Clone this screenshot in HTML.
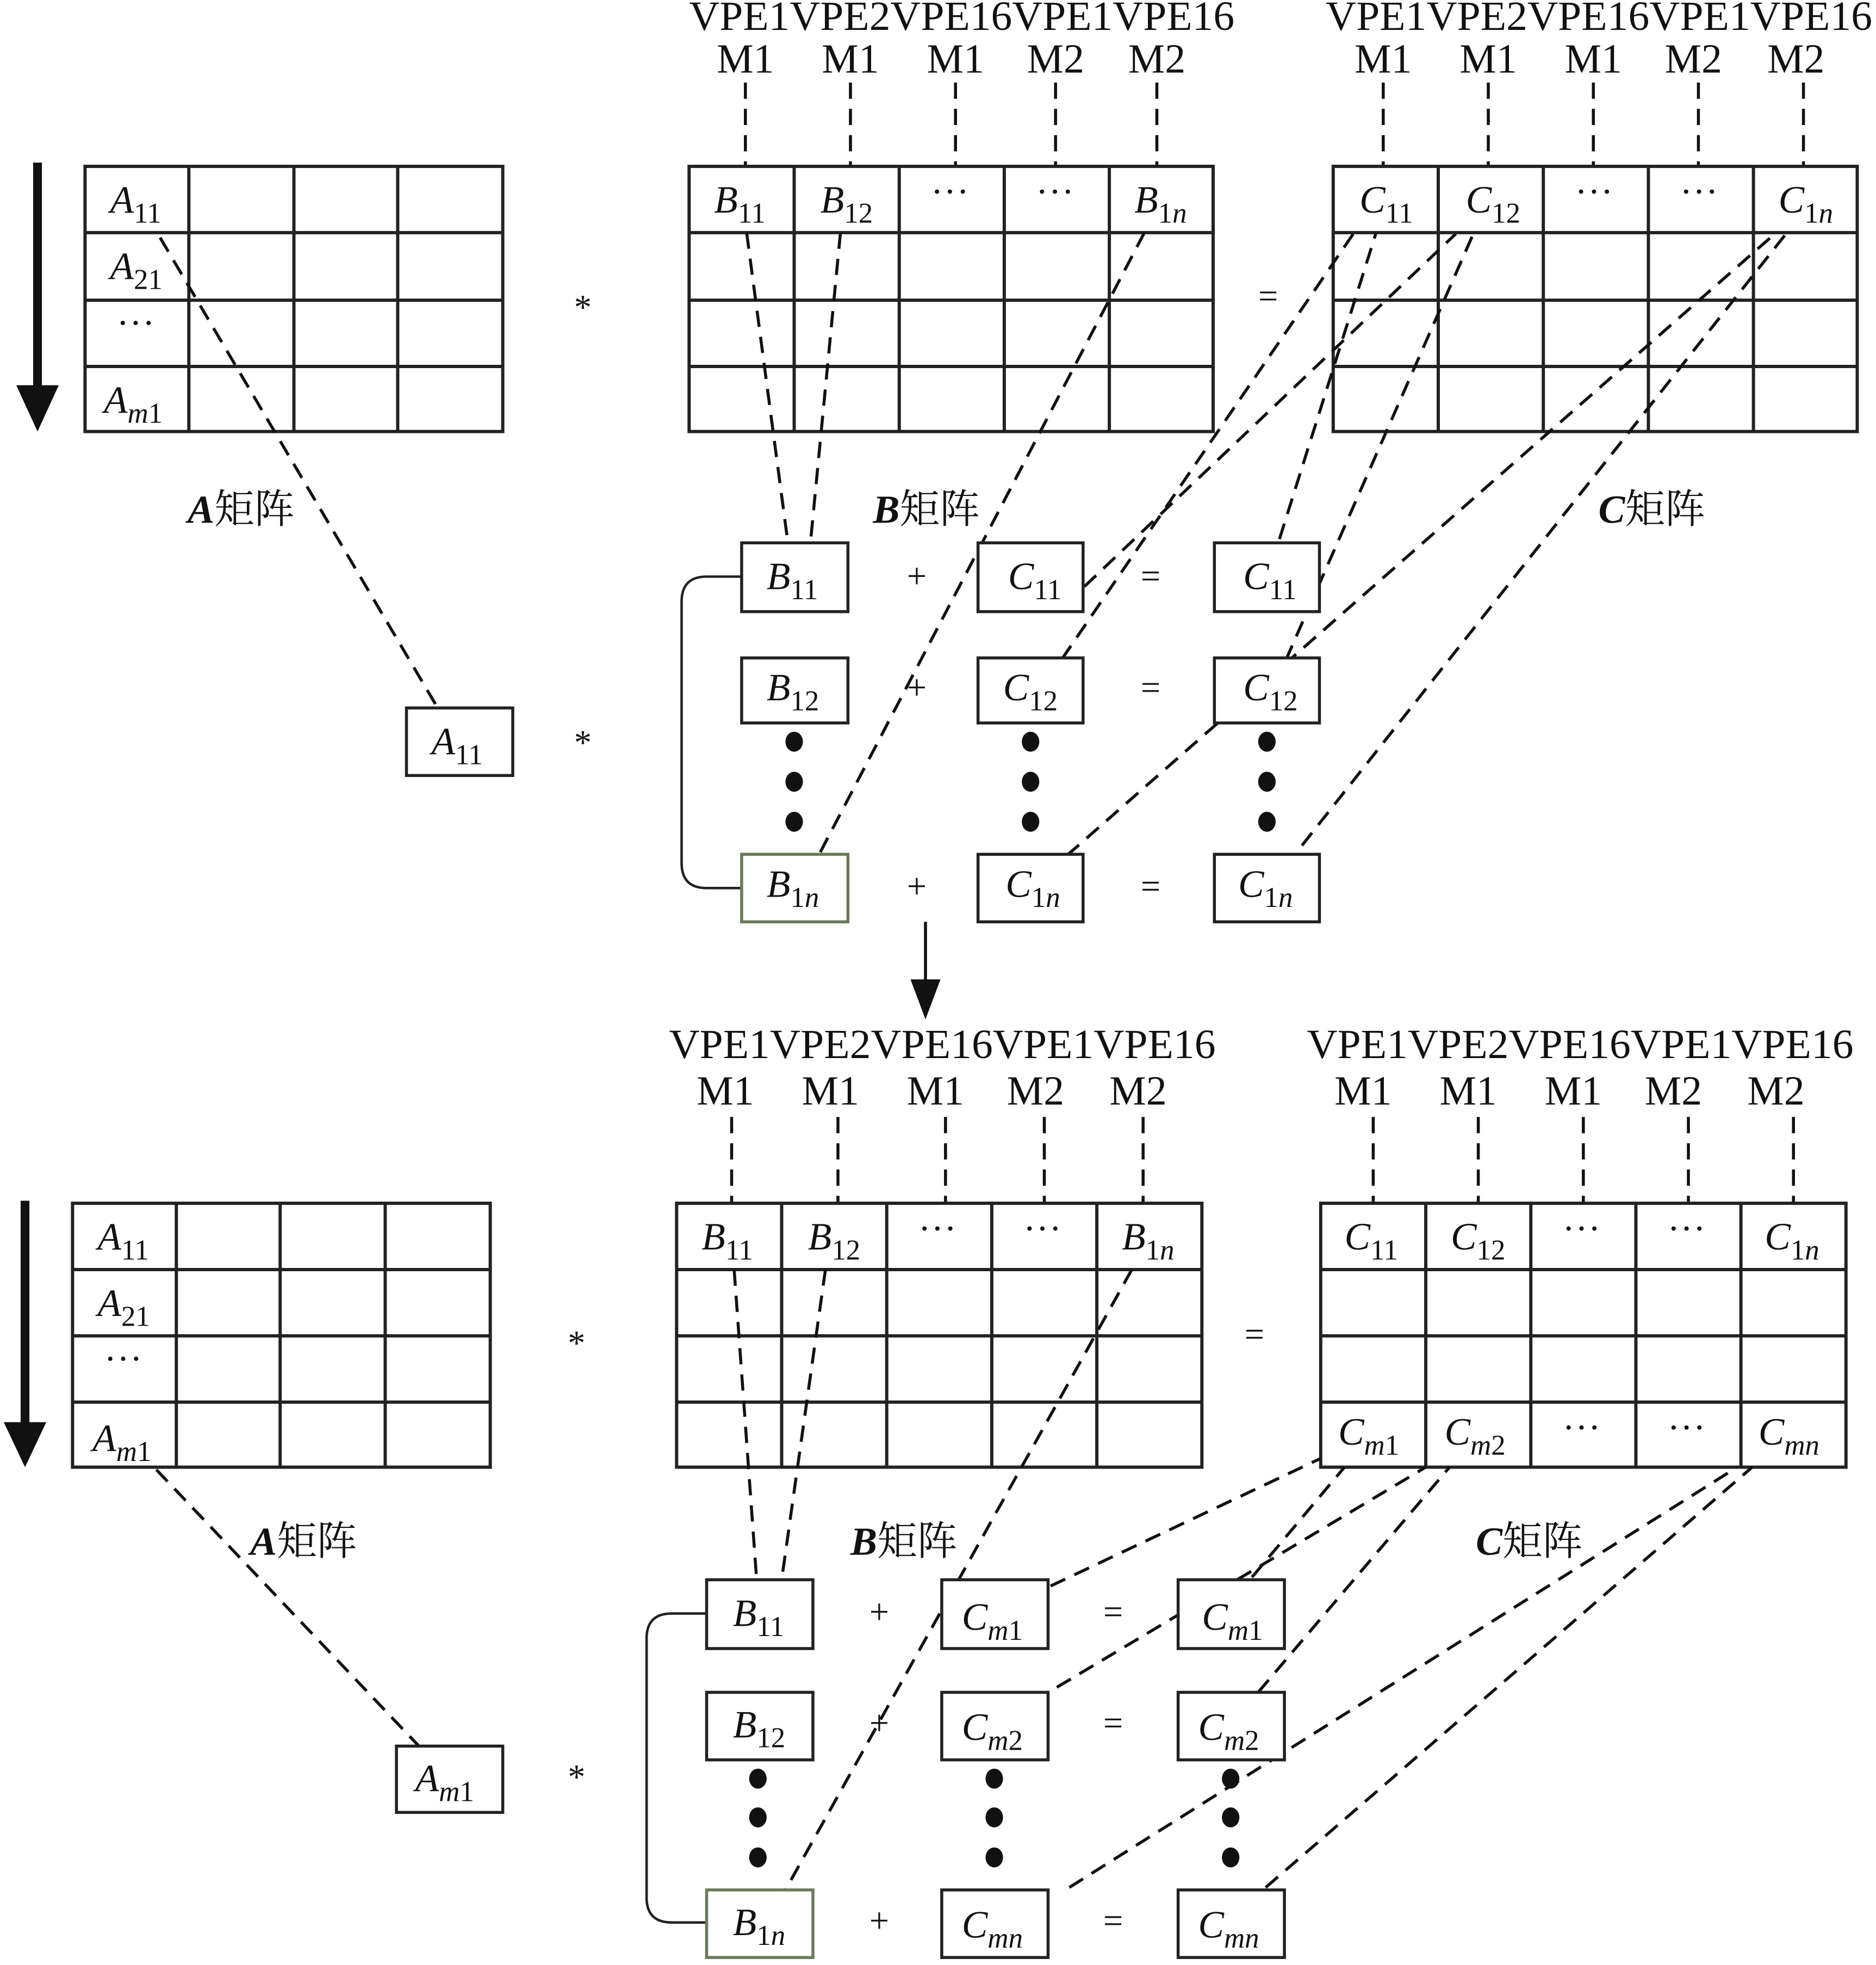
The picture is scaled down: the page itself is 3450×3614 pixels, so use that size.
<!DOCTYPE html>
<html><head><meta charset="utf-8">
<style>
html,body{margin:0;padding:0;background:#fff;}
svg{display:block;}
text{font-family:"Liberation Serif","Noto Serif CJK SC","Noto Sans CJK SC",serif;fill:#111;}
.it{font-style:italic;font-size:31px;}
.sub{font-style:normal;font-size:23px;}
.subi{font-style:italic;font-size:23px;}
.hd{font-size:33px;}
.op{font-size:28px;}
.lab{font-size:32px;}
.g line,.g rect{stroke:#222;stroke-width:2.6;fill:none;}
.d line{stroke:#111;stroke-width:2.4;stroke-dasharray:13 8;fill:none;}
.bx rect{stroke:#222;stroke-width:2.4;fill:#fff;}
</style></head><body>
<svg width="3450" height="3614" viewBox="0 0 1500 1571" preserveAspectRatio="none" xmlns="http://www.w3.org/2000/svg">
<rect width="1500" height="1571" fill="#fff"/>

<!-- ================= TOP SECTION ================= -->
<!-- header labels -->
<g class="hd">
<text x="551" y="24" textLength="436" lengthAdjust="spacingAndGlyphs">VPE1VPE2VPE16VPE1VPE16</text>
<text x="1060" y="24" textLength="437" lengthAdjust="spacingAndGlyphs">VPE1VPE2VPE16VPE1VPE16</text>
<text x="596" y="58" text-anchor="middle">M1</text><text x="680" y="58" text-anchor="middle">M1</text><text x="764" y="58" text-anchor="middle">M1</text><text x="844" y="58" text-anchor="middle">M2</text><text x="925" y="58" text-anchor="middle">M2</text>
<text x="1106" y="58" text-anchor="middle">M1</text><text x="1190" y="58" text-anchor="middle">M1</text><text x="1274" y="58" text-anchor="middle">M1</text><text x="1354" y="58" text-anchor="middle">M2</text><text x="1436" y="58" text-anchor="middle">M2</text>
</g>
<g class="d">
<line x1="596" y1="66" x2="596" y2="133"/><line x1="680" y1="66" x2="680" y2="133"/><line x1="764" y1="66" x2="764" y2="133"/><line x1="844" y1="66" x2="844" y2="133"/><line x1="925" y1="66" x2="925" y2="133"/>
<line x1="1106" y1="66" x2="1106" y2="133"/><line x1="1190" y1="66" x2="1190" y2="133"/><line x1="1274" y1="66" x2="1274" y2="133"/><line x1="1358" y1="66" x2="1358" y2="133"/><line x1="1442" y1="66" x2="1442" y2="133"/>
</g>

<!-- arrow left -->
<line x1="30" y1="130" x2="30" y2="312" stroke="#111" stroke-width="7"/>
<polygon points="13,308 47,308 30,345" fill="#111"/>

<!-- A matrix -->
<g class="g">
<rect x="68" y="133" width="334" height="212"/>
<line x1="151" y1="133" x2="151" y2="345"/><line x1="235" y1="133" x2="235" y2="345"/><line x1="318" y1="133" x2="318" y2="345"/>
<line x1="68" y1="186" x2="402" y2="186"/><line x1="68" y1="240" x2="402" y2="240"/><line x1="68" y1="293" x2="402" y2="293"/>
</g>
<!-- B matrix -->
<g class="g">
<rect x="551" y="133" width="419" height="212"/>
<line x1="635" y1="133" x2="635" y2="345"/><line x1="719" y1="133" x2="719" y2="345"/><line x1="803" y1="133" x2="803" y2="345"/><line x1="887" y1="133" x2="887" y2="345"/>
<line x1="551" y1="186" x2="970" y2="186"/><line x1="551" y1="240" x2="970" y2="240"/><line x1="551" y1="293" x2="970" y2="293"/>
</g>
<!-- C matrix -->
<g class="g">
<rect x="1066" y="133" width="419" height="212"/>
<line x1="1150" y1="133" x2="1150" y2="345"/><line x1="1234" y1="133" x2="1234" y2="345"/><line x1="1318" y1="133" x2="1318" y2="345"/><line x1="1402" y1="133" x2="1402" y2="345"/>
<line x1="1066" y1="186" x2="1485" y2="186"/><line x1="1066" y1="240" x2="1485" y2="240"/><line x1="1066" y1="293" x2="1485" y2="293"/>
</g>
<!-- matrix labels -->
<text class="it" x="88" y="170">A<tspan class="sub" dy="8">11</tspan></text>
<text class="it" x="88" y="223">A<tspan class="sub" dy="8">21</tspan></text>
<text class="it" x="93" y="270" style="font-style:normal">⋯</text>
<text class="it" x="83" y="330">A<tspan class="subi" dy="8">m</tspan><tspan class="sub">1</tspan></text>
<text class="it" x="571" y="170">B<tspan class="sub" dy="8">11</tspan></text>
<text class="it" x="656" y="170">B<tspan class="sub" dy="8">12</tspan></text>
<text class="it" x="744" y="165" style="font-style:normal">⋯</text>
<text class="it" x="828" y="165" style="font-style:normal">⋯</text>
<text class="it" x="907" y="170">B<tspan class="sub" dy="8">1</tspan><tspan class="subi">n</tspan></text>
<text class="it" x="1087" y="170">C<tspan class="sub" dy="8">11</tspan></text>
<text class="it" x="1172" y="170">C<tspan class="sub" dy="8">12</tspan></text>
<text class="it" x="1259" y="165" style="font-style:normal">⋯</text>
<text class="it" x="1343" y="165" style="font-style:normal">⋯</text>
<text class="it" x="1422" y="170">C<tspan class="sub" dy="8">1</tspan><tspan class="subi">n</tspan></text>

<text class="op" x="466" y="255" text-anchor="middle">*</text>
<text class="op" x="1014" y="246" text-anchor="middle">=</text>
<text class="lab" x="150" y="418"><tspan font-style="italic" font-weight="bold">A</tspan>矩阵</text>
<text class="lab" x="698" y="418"><tspan font-style="italic" font-weight="bold">B</tspan>矩阵</text>
<text class="lab" x="1278" y="418"><tspan font-style="italic" font-weight="bold">C</tspan>矩阵</text>

<!-- dashed connectors top -->
<g class="d">
<line x1="128" y1="190" x2="350" y2="566"/>
<line x1="597" y1="186" x2="630" y2="434"/>
<line x1="672" y1="186" x2="648" y2="434"/>
<line x1="915" y1="186" x2="655" y2="683"/>
<line x1="849" y1="527" x2="1082" y2="187"/>
<line x1="1023" y1="431" x2="1100" y2="187"/>
<line x1="867" y1="469" x2="1164" y2="187"/>
<line x1="1028" y1="528" x2="1178" y2="187"/>
<line x1="853" y1="684" x2="1419" y2="187"/>
<line x1="1041" y1="676" x2="1428" y2="187"/>
</g>

<!-- curve connector top -->
<path d="M593,461 H565 Q545,461 545,481 V690 Q545,710 565,710 H593" fill="none" stroke="#222" stroke-width="2"/>

<!-- boxes top -->
<g class="bx">
<rect x="325" y="566" width="85" height="54"/>
<rect x="593" y="434" width="85" height="55"/>
<rect x="593" y="526" width="85" height="52"/>
<rect x="593" y="683" width="85" height="54" style="stroke:#6a7a5a"/>
<rect x="782" y="434" width="84" height="55"/>
<rect x="782" y="526" width="84" height="52"/>
<rect x="782" y="683" width="84" height="54"/>
<rect x="971" y="434" width="84" height="55"/>
<rect x="971" y="526" width="84" height="52"/>
<rect x="971" y="683" width="84" height="54"/>
</g>
<text class="it" x="345" y="603">A<tspan class="sub" dy="8">11</tspan></text>
<text class="it" x="613" y="471">B<tspan class="sub" dy="8">11</tspan></text>
<text class="it" x="613" y="560">B<tspan class="sub" dy="8">12</tspan></text>
<text class="it" x="613" y="717">B<tspan class="sub" dy="8">1</tspan><tspan class="subi">n</tspan></text>
<text class="it" x="806" y="471">C<tspan class="sub" dy="8">11</tspan></text>
<text class="it" x="802" y="560">C<tspan class="sub" dy="8">12</tspan></text>
<text class="it" x="804" y="717">C<tspan class="sub" dy="8">1</tspan><tspan class="subi">n</tspan></text>
<text class="it" x="994" y="471">C<tspan class="sub" dy="8">11</tspan></text>
<text class="it" x="994" y="560">C<tspan class="sub" dy="8">12</tspan></text>
<text class="it" x="990" y="717">C<tspan class="sub" dy="8">1</tspan><tspan class="subi">n</tspan></text>
<g class="op" text-anchor="middle">
<text x="733" y="470">+</text><text x="733" y="559">+</text><text x="733" y="718">+</text>
<text x="920" y="470">=</text><text x="920" y="559">=</text><text x="920" y="718">=</text>
<text x="466" y="603">*</text>
</g>
<g fill="#111">
<ellipse cx="635" cy="593" rx="7" ry="8"/><ellipse cx="635" cy="625" rx="7" ry="8"/><ellipse cx="635" cy="657" rx="7" ry="8"/>
<ellipse cx="824" cy="593" rx="7" ry="8"/><ellipse cx="824" cy="625" rx="7" ry="8"/><ellipse cx="824" cy="657" rx="7" ry="8"/>
<ellipse cx="1013" cy="593" rx="7" ry="8"/><ellipse cx="1013" cy="625" rx="7" ry="8"/><ellipse cx="1013" cy="657" rx="7" ry="8"/>
</g>

<!-- middle down arrow -->
<line x1="740" y1="737" x2="740" y2="786" stroke="#111" stroke-width="2.4"/>
<polygon points="728,783 752,783 740,815" fill="#111"/>

<!-- ================= BOTTOM SECTION ================= -->
<g class="hd">
<text x="535" y="846" textLength="437" lengthAdjust="spacingAndGlyphs">VPE1VPE2VPE16VPE1VPE16</text>
<text x="1045" y="846" textLength="437" lengthAdjust="spacingAndGlyphs">VPE1VPE2VPE16VPE1VPE16</text>
<text x="580" y="883" text-anchor="middle">M1</text><text x="664" y="883" text-anchor="middle">M1</text><text x="748" y="883" text-anchor="middle">M1</text><text x="828" y="883" text-anchor="middle">M2</text><text x="910" y="883" text-anchor="middle">M2</text>
<text x="1090" y="883" text-anchor="middle">M1</text><text x="1174" y="883" text-anchor="middle">M1</text><text x="1258" y="883" text-anchor="middle">M1</text><text x="1338" y="883" text-anchor="middle">M2</text><text x="1420" y="883" text-anchor="middle">M2</text>
</g>
<g class="d">
<line x1="585" y1="893" x2="585" y2="962"/><line x1="670" y1="893" x2="670" y2="962"/><line x1="756" y1="893" x2="756" y2="962"/><line x1="835" y1="893" x2="835" y2="962"/><line x1="914" y1="893" x2="914" y2="962"/>
<line x1="1098" y1="893" x2="1098" y2="962"/><line x1="1182" y1="893" x2="1182" y2="962"/><line x1="1266" y1="893" x2="1266" y2="962"/><line x1="1350" y1="893" x2="1350" y2="962"/><line x1="1434" y1="893" x2="1434" y2="962"/>
</g>

<line x1="20" y1="960" x2="20" y2="1140" stroke="#111" stroke-width="7"/>
<polygon points="3,1137 37,1137 20,1173" fill="#111"/>

<g class="g">
<rect x="58" y="962" width="334" height="211"/>
<line x1="141" y1="962" x2="141" y2="1173"/><line x1="224" y1="962" x2="224" y2="1173"/><line x1="308" y1="962" x2="308" y2="1173"/>
<line x1="58" y1="1015" x2="392" y2="1015"/><line x1="58" y1="1068" x2="392" y2="1068"/><line x1="58" y1="1121" x2="392" y2="1121"/>
</g>
<g class="g">
<rect x="541" y="962" width="420" height="211"/>
<line x1="625" y1="962" x2="625" y2="1173"/><line x1="709" y1="962" x2="709" y2="1173"/><line x1="793" y1="962" x2="793" y2="1173"/><line x1="877" y1="962" x2="877" y2="1173"/>
<line x1="541" y1="1015" x2="961" y2="1015"/><line x1="541" y1="1068" x2="961" y2="1068"/><line x1="541" y1="1121" x2="961" y2="1121"/>
</g>
<g class="g">
<rect x="1056" y="962" width="420" height="211"/>
<line x1="1140" y1="962" x2="1140" y2="1173"/><line x1="1224" y1="962" x2="1224" y2="1173"/><line x1="1308" y1="962" x2="1308" y2="1173"/><line x1="1392" y1="962" x2="1392" y2="1173"/>
<line x1="1056" y1="1015" x2="1476" y2="1015"/><line x1="1056" y1="1068" x2="1476" y2="1068"/><line x1="1056" y1="1121" x2="1476" y2="1121"/>
</g>
<text class="it" x="78" y="999">A<tspan class="sub" dy="8">11</tspan></text>
<text class="it" x="78" y="1052">A<tspan class="sub" dy="8">21</tspan></text>
<text class="it" x="83" y="1098" style="font-style:normal">⋯</text>
<text class="it" x="74" y="1160">A<tspan class="subi" dy="8">m</tspan><tspan class="sub">1</tspan></text>
<text class="it" x="561" y="999">B<tspan class="sub" dy="8">11</tspan></text>
<text class="it" x="646" y="999">B<tspan class="sub" dy="8">12</tspan></text>
<text class="it" x="734" y="994" style="font-style:normal">⋯</text>
<text class="it" x="818" y="994" style="font-style:normal">⋯</text>
<text class="it" x="897" y="999">B<tspan class="sub" dy="8">1</tspan><tspan class="subi">n</tspan></text>
<text class="it" x="1075" y="999">C<tspan class="sub" dy="8">11</tspan></text>
<text class="it" x="1160" y="999">C<tspan class="sub" dy="8">12</tspan></text>
<text class="it" x="1249" y="994" style="font-style:normal">⋯</text>
<text class="it" x="1333" y="994" style="font-style:normal">⋯</text>
<text class="it" x="1411" y="999">C<tspan class="sub" dy="8">1</tspan><tspan class="subi">n</tspan></text>
<text class="it" x="1070" y="1155">C<tspan class="subi" dy="8">m</tspan><tspan class="sub">1</tspan></text>
<text class="it" x="1155" y="1155">C<tspan class="subi" dy="8">m</tspan><tspan class="sub">2</tspan></text>
<text class="it" x="1249" y="1153" style="font-style:normal">⋯</text>
<text class="it" x="1333" y="1153" style="font-style:normal">⋯</text>
<text class="it" x="1406" y="1155">C<tspan class="subi" dy="8">mn</tspan></text>

<text class="op" x="461" y="1083" text-anchor="middle">*</text>
<text class="op" x="1003" y="1076" text-anchor="middle">=</text>
<text class="lab" x="200" y="1243"><tspan font-style="italic" font-weight="bold">A</tspan>矩阵</text>
<text class="lab" x="680" y="1243"><tspan font-style="italic" font-weight="bold">B</tspan>矩阵</text>
<text class="lab" x="1180" y="1243"><tspan font-style="italic" font-weight="bold">C</tspan>矩阵</text>

<g class="d">
<line x1="125" y1="1175" x2="335" y2="1396"/>
<line x1="587" y1="1015" x2="605" y2="1263"/>
<line x1="660" y1="1015" x2="625" y2="1263"/>
<line x1="905" y1="1015" x2="628" y2="1511"/>
<line x1="840" y1="1268" x2="1056" y2="1166"/>
<line x1="845" y1="1349" x2="1140" y2="1173"/>
<line x1="1001" y1="1261" x2="1075" y2="1173"/>
<line x1="1006" y1="1353" x2="1159" y2="1173"/>
<line x1="855" y1="1509" x2="1389" y2="1173"/>
<line x1="1012" y1="1509" x2="1401" y2="1173"/>
</g>

<path d="M565,1290 H537 Q517,1290 517,1310 V1517 Q517,1537 537,1537 H565" fill="none" stroke="#222" stroke-width="2"/>

<g class="bx">
<rect x="317" y="1396" width="85" height="53"/>
<rect x="565" y="1263" width="85" height="55"/>
<rect x="565" y="1353" width="85" height="54"/>
<rect x="565" y="1511" width="85" height="54" style="stroke:#6a7a5a"/>
<rect x="753" y="1263" width="85" height="55"/>
<rect x="753" y="1353" width="85" height="54"/>
<rect x="753" y="1511" width="85" height="54"/>
<rect x="942" y="1263" width="85" height="55"/>
<rect x="942" y="1353" width="85" height="54"/>
<rect x="942" y="1511" width="85" height="54"/>
</g>
<text class="it" x="332" y="1432">A<tspan class="subi" dy="8">m</tspan><tspan class="sub">1</tspan></text>
<text class="it" x="586" y="1300">B<tspan class="sub" dy="8">11</tspan></text>
<text class="it" x="586" y="1389">B<tspan class="sub" dy="8">12</tspan></text>
<text class="it" x="586" y="1547">B<tspan class="sub" dy="8">1</tspan><tspan class="subi">n</tspan></text>
<text class="it" x="769" y="1303">C<tspan class="subi" dy="8">m</tspan><tspan class="sub">1</tspan></text>
<text class="it" x="769" y="1391">C<tspan class="subi" dy="8">m</tspan><tspan class="sub">2</tspan></text>
<text class="it" x="769" y="1549">C<tspan class="subi" dy="8">mn</tspan></text>
<text class="it" x="961" y="1303">C<tspan class="subi" dy="8">m</tspan><tspan class="sub">1</tspan></text>
<text class="it" x="958" y="1391">C<tspan class="subi" dy="8">m</tspan><tspan class="sub">2</tspan></text>
<text class="it" x="958" y="1549">C<tspan class="subi" dy="8">mn</tspan></text>
<g class="op" text-anchor="middle">
<text x="703" y="1298">+</text><text x="703" y="1387">+</text><text x="703" y="1545">+</text>
<text x="890" y="1298">=</text><text x="890" y="1387">=</text><text x="890" y="1545">=</text>
<text x="461" y="1430">*</text>
</g>
<g fill="#111">
<ellipse cx="606" cy="1422" rx="7" ry="8"/><ellipse cx="606" cy="1453" rx="7" ry="8"/><ellipse cx="606" cy="1485" rx="7" ry="8"/>
<ellipse cx="795" cy="1422" rx="7" ry="8"/><ellipse cx="795" cy="1453" rx="7" ry="8"/><ellipse cx="795" cy="1485" rx="7" ry="8"/>
<ellipse cx="984" cy="1422" rx="7" ry="8"/><ellipse cx="984" cy="1453" rx="7" ry="8"/><ellipse cx="984" cy="1485" rx="7" ry="8"/>
</g>
</svg>
</body></html>
